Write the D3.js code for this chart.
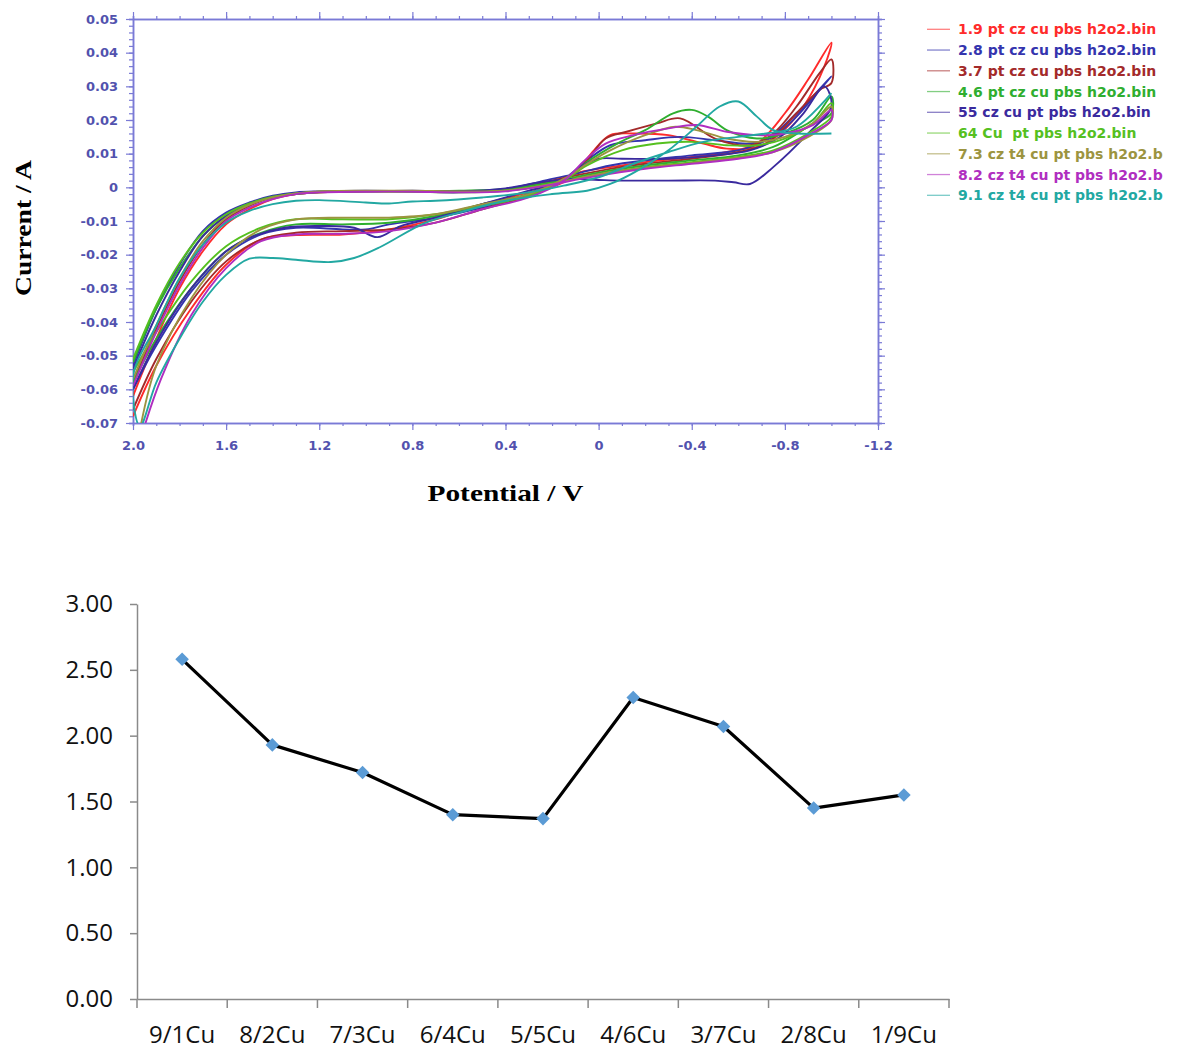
<!DOCTYPE html>
<html>
<head>
<meta charset="utf-8">
<script src="https://cdn.jsdelivr.net/npm/d3@7"></script>
<style>
  body { margin: 0; background: #fff; }
  svg { display: block; }
</style>
</head>
<body>
<svg class="chart" width="1178" height="1052"></svg>
<script>
// ---- top chart: cyclic voltammograms, [potential V, current A] ----
const seriesNames = [
  '1.9 pt cz cu pbs h2o2.bin',
  '2.8 pt cz cu pbs h2o2.bin',
  '3.7 pt cz cu pbs h2o2.bin',
  '4.6 pt cz cu pbs h2o2.bin',
  '55 cz cu pt pbs h2o2.bin',
  '64 Cu  pt pbs h2o2.bin',
  '7.3 cz t4 cu pt pbs h2o2.b',
  '8.2 cz t4 cu pt pbs h2o2.b',
  '9.1 cz t4 cu pt pbs h2o2.b'
]
const seriesColors = ['#ff2b2b', '#3434ae', '#a32a2a', '#2fae2f', '#3a2a9e', '#55c01f', '#9c9440', '#b02ec0', '#22a8a2']

const cv19 = [[2.0, -0.062], [1.9, -0.045], [1.8, -0.030], [1.7, -0.019], [1.6, -0.011], [1.5, -0.0065], [1.4, -0.0035], [1.3, -0.002], [1.2, -0.0015], [1.0, -0.0012], [0.8, -0.0012], [0.6, -0.0012], [0.4, -0.0008], [0.2, 0.0015], [0.08, 0.0045], [-0.05, 0.006], [-0.2, 0.0075], [-0.4, 0.009], [-0.55, 0.0105], [-0.68, 0.013], [-0.8, 0.022], [-0.9, 0.032], [-1.0, 0.043],
  [-0.97, 0.036], [-0.88, 0.024], [-0.78, 0.016], [-0.68, 0.012], [-0.55, 0.0115], [-0.45, 0.013], [-0.3, 0.0155], [-0.15, 0.016], [-0.05, 0.0155], [0.02, 0.011], [0.08, 0.006], [0.15, 0.0015], [0.3, -0.0015], [0.5, -0.005], [0.7, -0.0095], [0.9, -0.0125], [1.1, -0.014], [1.3, -0.0142], [1.45, -0.0155], [1.6, -0.023], [1.75, -0.036], [1.9, -0.053], [2.0, -0.068]]
const cv28 = [[2.0, -0.053], [1.9, -0.036], [1.8, -0.023], [1.7, -0.013], [1.6, -0.0075], [1.5, -0.0045], [1.4, -0.0025], [1.3, -0.0015], [1.2, -0.0012], [1.0, -0.001], [0.8, -0.0012], [0.6, -0.0015], [0.4, -0.0005], [0.2, 0.0025], [0.1, 0.004], [-0.05, 0.0065], [-0.2, 0.008], [-0.4, 0.0095], [-0.6, 0.011], [-0.72, 0.014], [-0.85, 0.022], [-1.0, 0.033],
  [-0.95, 0.029], [-0.85, 0.021], [-0.75, 0.015], [-0.65, 0.013], [-0.5, 0.014], [-0.35, 0.015], [-0.2, 0.014], [-0.05, 0.0125], [0.05, 0.008], [0.15, 0.0025], [0.3, -0.002], [0.5, -0.006], [0.7, -0.009], [0.9, -0.011], [1.0, -0.0125], [1.1, -0.0125], [1.3, -0.012], [1.45, -0.014], [1.6, -0.02], [1.75, -0.031], [1.9, -0.047], [2.0, -0.06]]
const cv37 = [[2.0, -0.058], [1.9, -0.042], [1.8, -0.028], [1.7, -0.017], [1.6, -0.0095], [1.5, -0.0055], [1.4, -0.003], [1.3, -0.002], [1.2, -0.0015], [1.0, -0.0012], [0.8, -0.0012], [0.6, -0.0012], [0.4, -0.0008], [0.2, 0.002], [0.1, 0.0035], [-0.05, 0.0055], [-0.2, 0.007], [-0.4, 0.0085], [-0.6, 0.0105], [-0.72, 0.013], [-0.85, 0.022], [-0.95, 0.029], [-1.0, 0.031],
  [-1.0, 0.038], [-0.95, 0.034], [-0.85, 0.024], [-0.75, 0.016], [-0.65, 0.0125], [-0.5, 0.0145], [-0.35, 0.0205], [-0.25, 0.019], [-0.12, 0.0165], [-0.03, 0.0145], [0.05, 0.008], [0.12, 0.0035], [0.3, -0.0025], [0.5, -0.0065], [0.7, -0.0105], [0.9, -0.0125], [1.1, -0.013], [1.3, -0.0135], [1.45, -0.0155], [1.6, -0.022], [1.75, -0.034], [1.9, -0.051], [2.0, -0.066]]
const cv46 = [[2.0, -0.052], [1.9, -0.036], [1.8, -0.024], [1.7, -0.0145], [1.6, -0.0085], [1.5, -0.005], [1.4, -0.003], [1.3, -0.002], [1.2, -0.0015], [1.0, -0.0012], [0.8, -0.0012], [0.6, -0.001], [0.4, -0.0005], [0.2, 0.0015], [0.1, 0.003], [-0.05, 0.005], [-0.2, 0.0065], [-0.4, 0.008], [-0.6, 0.0095], [-0.75, 0.012], [-0.9, 0.018], [-1.0, 0.022],
  [-1.0, 0.027], [-0.92, 0.02], [-0.8, 0.016], [-0.68, 0.0145], [-0.55, 0.017], [-0.47, 0.021], [-0.4, 0.023], [-0.32, 0.022], [-0.2, 0.017], [-0.08, 0.013], [0.05, 0.0075], [0.15, 0.002], [0.3, -0.002], [0.5, -0.005], [0.7, -0.0085], [0.9, -0.0105], [1.1, -0.011], [1.3, -0.011], [1.45, -0.0135], [1.6, -0.019], [1.75, -0.03], [1.9, -0.045], [2.0, -0.058]]
const cv55 = [[2.0, -0.054], [1.9, -0.038], [1.8, -0.025], [1.7, -0.0145], [1.6, -0.0085], [1.5, -0.005], [1.4, -0.0028], [1.3, -0.0018], [1.2, -0.0013], [1.0, -0.0012], [0.8, -0.001], [0.6, -0.0012], [0.4, -0.0003], [0.25, 0.0015], [0.12, 0.0025], [0.0, 0.0022], [-0.1, 0.002], [-0.3, 0.002], [-0.5, 0.002], [-0.58, 0.0015], [-0.65, 0.001], [-0.75, 0.006], [-0.9, 0.016], [-1.0, 0.024],
  [-0.97, 0.03], [-0.88, 0.022], [-0.78, 0.015], [-0.65, 0.011], [-0.5, 0.0095], [-0.3, 0.0085], [-0.1, 0.0085], [0.0, 0.0085], [0.08, 0.006], [0.15, 0.002], [0.3, -0.001], [0.5, -0.005], [0.7, -0.009], [0.85, -0.0115], [0.95, -0.0148], [1.05, -0.012], [1.2, -0.0115], [1.35, -0.012], [1.5, -0.015], [1.6, -0.019], [1.75, -0.03], [1.9, -0.046], [2.0, -0.06]]
const cv64 = [[2.0, -0.051], [1.9, -0.035], [1.8, -0.0225], [1.7, -0.0135], [1.6, -0.008], [1.5, -0.0048], [1.4, -0.0028], [1.3, -0.0018], [1.2, -0.0013], [1.0, -0.0012], [0.8, -0.0013], [0.6, -0.0015], [0.4, -0.001], [0.2, 0.001], [0.1, 0.0025], [-0.05, 0.0045], [-0.2, 0.006], [-0.4, 0.0075], [-0.6, 0.009], [-0.75, 0.011], [-0.9, 0.016], [-1.0, 0.021],
  [-1.0, 0.025], [-0.92, 0.019], [-0.8, 0.0145], [-0.68, 0.0125], [-0.55, 0.0125], [-0.4, 0.0135], [-0.25, 0.013], [-0.1, 0.011], [0.05, 0.0065], [0.15, 0.002], [0.3, -0.0025], [0.5, -0.0055], [0.7, -0.008], [0.9, -0.0095], [1.1, -0.0095], [1.3, -0.0095], [1.45, -0.012], [1.6, -0.0175], [1.75, -0.028], [1.9, -0.043], [2.0, -0.055]]
const cv73 = [[2.0, -0.057], [1.9, -0.041], [1.8, -0.027], [1.7, -0.016], [1.6, -0.009], [1.5, -0.0052], [1.4, -0.003], [1.3, -0.0018], [1.2, -0.0012], [1.0, -0.001], [0.8, -0.001], [0.6, -0.0012], [0.4, -0.001], [0.2, 0.001], [0.1, 0.0025], [-0.05, 0.0045], [-0.2, 0.0058], [-0.4, 0.0072], [-0.6, 0.0088], [-0.75, 0.0105], [-0.9, 0.015], [-1.0, 0.02],
  [-1.0, 0.024], [-0.92, 0.019], [-0.8, 0.015], [-0.68, 0.0135], [-0.55, 0.0145], [-0.42, 0.017], [-0.33, 0.018], [-0.2, 0.0155], [-0.05, 0.011], [0.05, 0.007], [0.15, 0.0025], [0.3, -0.002], [0.5, -0.005], [0.7, -0.008], [0.9, -0.009], [1.1, -0.009], [1.3, -0.0095], [1.45, -0.0125], [1.6, -0.02], [1.75, -0.033], [1.9, -0.053], [1.97, -0.072]]
const cv82 = [[2.0, -0.059], [1.9, -0.043], [1.8, -0.029], [1.7, -0.018], [1.6, -0.01], [1.5, -0.006], [1.4, -0.0035], [1.3, -0.002], [1.2, -0.0015], [1.0, -0.0013], [0.8, -0.0013], [0.6, -0.0015], [0.4, -0.0012], [0.2, 0.0008], [0.1, 0.0022], [-0.05, 0.004], [-0.2, 0.0055], [-0.4, 0.007], [-0.6, 0.0085], [-0.75, 0.0105], [-0.9, 0.0155], [-1.0, 0.02],
  [-1.0, 0.023], [-0.92, 0.0185], [-0.8, 0.016], [-0.68, 0.0155], [-0.55, 0.0165], [-0.42, 0.0185], [-0.3, 0.0175], [-0.15, 0.0155], [-0.03, 0.013], [0.06, 0.008], [0.15, 0.002], [0.3, -0.003], [0.5, -0.0065], [0.7, -0.0105], [0.9, -0.013], [1.1, -0.0138], [1.3, -0.014], [1.45, -0.016], [1.6, -0.024], [1.75, -0.038], [1.88, -0.057], [1.96, -0.073]]
const cv91 = [[-1.0, 0.016], [-0.85, 0.016], [-0.75, 0.017], [-0.68, 0.021], [-0.6, 0.0255], [-0.52, 0.024], [-0.42, 0.018], [-0.3, 0.011], [-0.18, 0.0055], [-0.05, 0.001], [0.05, -0.001], [0.2, -0.002], [0.4, -0.004], [0.6, -0.0075], [0.75, -0.0107], [0.94, -0.0178], [1.05, -0.021], [1.15, -0.0222], [1.3, -0.0215], [1.4, -0.021], [1.5, -0.0212], [1.6, -0.026], [1.7, -0.034], [1.8, -0.045], [1.9, -0.058], [1.97, -0.071],
  [2.0, -0.056], [1.9, -0.041], [1.8, -0.027], [1.7, -0.017], [1.6, -0.0105], [1.5, -0.007], [1.4, -0.005], [1.3, -0.004], [1.2, -0.0038], [1.0, -0.0045], [0.9, -0.0048], [0.8, -0.0042], [0.7, -0.004], [0.5, -0.003], [0.3, -0.0015], [0.15, 0.0005], [0.0, 0.003], [-0.15, 0.007], [-0.3, 0.0105], [-0.45, 0.0135], [-0.6, 0.015], [-0.72, 0.016], [-0.85, 0.018], [-1.0, 0.028]]
const cvSeries = [cv19, cv28, cv37, cv46, cv55, cv64, cv73, cv82, cv91]

const potentialTicks = [2.0, 1.6, 1.2, 0.8, 0.4, 0, -0.4, -0.8, -1.2]
const currentTicks = [0.05, 0.04, 0.03, 0.02, 0.01, 0, -0.01, -0.02, -0.03, -0.04, -0.05, -0.06, -0.07]

// ---- bottom chart ----
const ratioLabels = ['9/1Cu', '8/2Cu', '7/3Cu', '6/4Cu', '5/5Cu', '4/6Cu', '3/7Cu', '2/8Cu', '1/9Cu']
const ratioValues = [2.58, 1.93, 1.72, 1.40, 1.37, 2.29, 2.07, 1.45, 1.55]
const ratioTicks = [0, 0.5, 1, 1.5, 2, 2.5, 3]

const svg = d3.select('.chart')

const axisColor = '#7a7ad6'
const labelColor = '#5252ae'
const verdana = '"DejaVu Sans", Verdana, sans-serif'

const xCv = d3.scaleLinear().domain([2.0, -1.2]).range([133, 878])
const yCv = d3.scaleLinear().domain([-0.07, 0.05]).range([423, 19])
const minorX = d3.range(-12, 21).map(d => d / 10)
const minorY = d3.range(-35, 26).map(d => d / 500)

const styleAxis = (g) => {
  g.selectAll('path.domain').attr('stroke', axisColor).attr('stroke-width', 1.5)
  g.selectAll('.tick line').attr('stroke', axisColor).attr('stroke-width', 1.2)
  g.selectAll('.tick text').attr('fill', labelColor)
    .style('font-family', verdana).style('font-size', '13px').style('font-weight', 'bold')
}

const fmtE = d => (d === 0 ? '0' : d.toFixed(1))
const fmtI = d => (Math.abs(d) < 1e-9 ? '0' : d.toFixed(2))

// minor ticks first, majors on top
svg.append('g').attr('transform', 'translate(0,423)')
  .call(d3.axisBottom(xCv).tickValues(minorX).tickSize(3).tickFormat('')).call(styleAxis)
svg.append('g').attr('transform', 'translate(0,19)')
  .call(d3.axisTop(xCv).tickValues(minorX).tickSize(3).tickFormat('')).call(styleAxis)
svg.append('g').attr('transform', 'translate(133,0)')
  .call(d3.axisLeft(yCv).tickValues(minorY).tickSize(4).tickFormat('')).call(styleAxis)
svg.append('g').attr('transform', 'translate(878,0)')
  .call(d3.axisRight(yCv).tickValues(minorY).tickSize(4).tickFormat('')).call(styleAxis)

svg.append('g').attr('transform', 'translate(0,423)')
  .call(d3.axisBottom(xCv).tickValues(potentialTicks).tickSizeInner(7).tickSizeOuter(0).tickPadding(11).tickFormat(fmtE))
  .call(styleAxis)
svg.append('g').attr('transform', 'translate(0,19)')
  .call(d3.axisTop(xCv).tickValues(potentialTicks).tickSizeInner(7).tickSizeOuter(0).tickFormat(''))
  .call(styleAxis)
svg.append('g').attr('transform', 'translate(133,0)')
  .call(d3.axisLeft(yCv).tickValues(currentTicks).tickSizeInner(7).tickSizeOuter(0).tickPadding(8).tickFormat(fmtI))
  .call(styleAxis)
svg.append('g').attr('transform', 'translate(878,0)')
  .call(d3.axisRight(yCv).tickValues(currentTicks).tickSizeInner(7).tickSizeOuter(0).tickFormat(''))
  .call(styleAxis)

svg.append('clipPath').attr('id', 'cvClip')
  .append('rect').attr('x', 133).attr('y', 19).attr('width', 745).attr('height', 404)

const cvLine = d3.line()
  .x(d => xCv(d[0]))
  .y(d => yCv(d[1]))
  .curve(d3.curveCatmullRom.alpha(0.5))

svg.append('g').attr('clip-path', 'url(#cvClip)')
  .selectAll('path')
  .data(cvSeries)
  .enter()
  .append('path')
  .attr('d', cvLine)
  .attr('fill', 'none')
  .attr('stroke', (d, i) => seriesColors[i])
  .attr('stroke-width', 1.9)
  .attr('stroke-linejoin', 'round')

// legend
const legend = svg.append('g').attr('class', 'legend')
  .selectAll('g')
  .data(seriesNames)
  .enter()
  .append('g')
  .attr('transform', (d, i) => `translate(0,${29.3 + i * 20.75})`)
legend.append('line')
  .attr('x1', 927).attr('x2', 950)
  .attr('stroke', (d, i) => seriesColors[i])
  .attr('stroke-opacity', 0.6)
  .attr('stroke-width', 1.3)
legend.append('text')
  .attr('x', 958)
  .attr('dy', '0.36em')
  .attr('fill', (d, i) => seriesColors[i])
  .style('font-family', verdana)
  .style('font-size', '14px')
  .style('font-weight', 'bold')
  .style('white-space', 'pre')
  .text(d => d)

svg.append('text')
  .attr('transform', 'translate(31,228) rotate(-90)')
  .attr('text-anchor', 'middle')
  .attr('textLength', 136)
  .attr('lengthAdjust', 'spacingAndGlyphs')
  .style('font-family', '"Liberation Serif", "Times New Roman", serif')
  .style('font-weight', 'bold')
  .style('font-size', '24px')
  .text('Current / A')

svg.append('text')
  .attr('x', 505.5)
  .attr('y', 501)
  .attr('text-anchor', 'middle')
  .attr('textLength', 156)
  .attr('lengthAdjust', 'spacingAndGlyphs')
  .style('font-family', '"Liberation Serif", "Times New Roman", serif')
  .style('font-weight', 'bold')
  .style('font-size', '24px')
  .text('Potential / V')

// ---- bottom chart ----
const xRatio = d3.scaleBand().domain(ratioLabels).range([137, 949])
const yRatio = d3.scaleLinear().domain([0, 3]).range([999, 604])
const grey = '#8a8a8a'
const sans = '"Open Sans", "Noto Sans", sans-serif'

const yAxisR = svg.append('g').attr('transform', 'translate(137,0)')
  .call(d3.axisLeft(yRatio).tickValues(ratioTicks).tickSizeInner(7).tickSizeOuter(0).tickPadding(17).tickFormat(d3.format('.2f')))
yAxisR.select('path.domain').attr('stroke', grey).attr('stroke-width', 1.5)
yAxisR.selectAll('.tick line').attr('stroke', grey).attr('stroke-width', 1.5)
yAxisR.selectAll('.tick text').attr('fill', '#111').style('font-family', sans).style('font-size', '24px')

const xAxisR = svg.append('g').attr('transform', 'translate(0,999)')
  .call(d3.axisBottom(xRatio).tickSize(0).tickPadding(27))
xAxisR.select('path.domain').attr('stroke', grey).attr('stroke-width', 1.5)
xAxisR.selectAll('.tick text').attr('fill', '#111').style('font-family', sans).style('font-size', '24px')
xAxisR.selectAll('line.sep')
  .data(ratioLabels.concat(['end']))
  .enter()
  .append('line')
  .attr('class', 'sep')
  .attr('x1', (d, i) => xRatio.range()[0] + i * xRatio.step())
  .attr('x2', (d, i) => xRatio.range()[0] + i * xRatio.step())
  .attr('y1', 0).attr('y2', 9)
  .attr('stroke', grey).attr('stroke-width', 1.5)

const ratioLine = d3.line()
  .x((d, i) => xRatio(ratioLabels[i]) + xRatio.bandwidth() / 2)
  .y(d => yRatio(d))

svg.append('path')
  .datum(ratioValues)
  .attr('d', ratioLine)
  .attr('fill', 'none')
  .attr('stroke', '#000')
  .attr('stroke-width', 3.2)
  .attr('stroke-linejoin', 'round')

svg.append('g')
  .selectAll('path')
  .data(ratioValues)
  .enter()
  .append('path')
  .attr('d', d3.symbol(d3.symbolSquare, 92))
  .attr('transform', (d, i) => `translate(${xRatio(ratioLabels[i]) + xRatio.bandwidth() / 2},${yRatio(d)}) rotate(45)`)
  .attr('fill', '#5b9bd5')
</script>
</body>
</html>
